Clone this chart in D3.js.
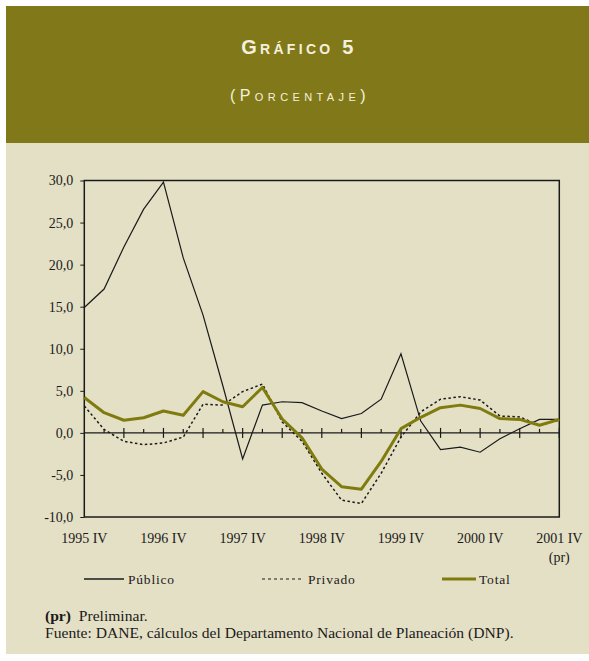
<!DOCTYPE html>
<html>
<head>
<meta charset="utf-8">
<script src="https://cdn.jsdelivr.net/npm/d3@7"></script>
<style>
  body { margin: 0; background: #fff; }
  svg { display: block; }
</style>
</head>
<body>
<svg></svg>
<script>
// quarters 1995 IV .. 2001 IV
var quarters = ["1995 IV",
  "1996 I", "1996 II", "1996 III", "1996 IV",
  "1997 I", "1997 II", "1997 III", "1997 IV",
  "1998 I", "1998 II", "1998 III", "1998 IV",
  "1999 I", "1999 II", "1999 III", "1999 IV",
  "2000 I", "2000 II", "2000 III", "2000 IV",
  "2001 I", "2001 II", "2001 III", "2001 IV"];

var publico = [14.9, 17.1, 22.1, 26.6, 29.8, 20.8, 14.0, 5.6, -3.1, 3.3, 3.7, 3.6, 2.6,
  1.7, 2.3, 4.0, 9.4, 1.4, -2.0, -1.7, -2.3, -0.7, 0.5, 1.6, 1.6];
var privado = [3.2, 0.4, -1.0, -1.4, -1.2, -0.5, 3.4, 3.3, 4.9, 5.8, 1.3, -1.0, -4.8,
  -8.0, -8.4, -4.8, -0.5, 2.5, 4.0, 4.3, 3.9, 2.0, 1.9, 0.9, 1.5];
var total = [4.2, 2.4, 1.5, 1.8, 2.6, 2.1, 4.9, 3.7, 3.1, 5.4, 1.65, -0.6, -4.3,
  -6.4, -6.7, -3.4, 0.5, 1.85, 3.0, 3.3, 2.9, 1.7, 1.6, 0.9, 1.6];

var yTicks = [-10, -5, 0, 5, 10, 15, 20, 25, 30];
var xLabels = ["1995 IV", "1996 IV", "1997 IV", "1998 IV", "1999 IV", "2000 IV", "2001 IV"];

var W = 589, H = 661;
var bg = "#e4e0c5", olive = "#817919", lineOlive = "#807b0e", ink = "#1a1a1a";
var serif = "'Liberation Serif', 'Times New Roman', serif";

var svg = d3.select("svg").attr("width", W).attr("height", H);

// panel + header band
svg.append("rect").attr("x", 6).attr("y", 6).attr("width", W - 6).attr("height", 648).attr("fill", bg);
svg.append("rect").attr("x", 6).attr("y", 6).attr("width", W - 6).attr("height", 137).attr("fill", olive);

svg.append("text")
    .attr("x", 299).attr("y", 54)
    .attr("text-anchor", "middle")
    .attr("fill", "#f4f0dc")
    .style("font-family", "'Liberation Sans', Arial, sans-serif")
    .style("font-size", "20px")
    .style("font-weight", "bold")
    .style("font-variant", "small-caps")
    .style("letter-spacing", "3.3px")
    .text("Gráfico 5");

svg.append("text")
    .attr("x", 300).attr("y", 101)
    .attr("text-anchor", "middle")
    .attr("fill", "#f4f0dc")
    .style("font-family", "'Liberation Sans', Arial, sans-serif")
    .style("font-size", "16px")
    .style("font-variant", "small-caps")
    .style("letter-spacing", "4.4px")
    .text("(Porcentaje)");

var plotLeft = 84.3, plotRight = 559.3, plotTop = 180.5, plotBottom = 517;

var x = d3.scalePoint().domain(quarters).range([plotLeft, plotRight]);
var y = d3.scaleLinear().domain([-10, 30]).range([plotBottom, plotTop]);

var g = svg.append("g");

// frame
g.append("rect")
    .attr("x", plotLeft).attr("y", plotTop)
    .attr("width", plotRight - plotLeft).attr("height", plotBottom - plotTop)
    .attr("fill", "none").attr("stroke", ink).attr("stroke-width", 1.5);

// y axis labels
var yAxis = d3.axisLeft(y).tickValues(yTicks).tickSize(4)
    .tickFormat(function(d) { return d3.format(".1f")(d).replace(".", ",").replace("\u2212", "-"); });
g.append("g")
    .attr("transform", "translate(" + plotLeft + ",0)")
    .call(yAxis)
    .call(function(s) {
      s.select(".domain").remove();
      s.selectAll("line").attr("stroke", ink).attr("stroke-width", 1);
      s.selectAll("text")
        .attr("x", -11)
        .attr("fill", ink)
        .style("font-family", serif)
        .style("font-size", "14px");
    });

// zero line with quarter ticks
g.append("line")
    .attr("x1", plotLeft).attr("x2", plotRight)
    .attr("y1", y(0)).attr("y2", y(0))
    .attr("stroke", ink).attr("stroke-width", 1.2);

g.selectAll(".qtick")
    .data(quarters.slice(1))
  .enter().append("line")
    .attr("class", "qtick")
    .attr("x1", function(d) { return x(d); })
    .attr("x2", function(d) { return x(d); })
    .attr("y1", function(d, i) { return y(0) - ((i + 1) % 2 === 0 ? 5 : 4); })
    .attr("y2", function(d, i) { return y(0) + ((i + 1) % 2 === 0 ? 5 : 0); })
    .attr("stroke", ink).attr("stroke-width", 1.2);

// x labels
g.selectAll(".xlab")
    .data(xLabels)
  .enter().append("text")
    .attr("class", "xlab")
    .attr("x", function(d) { return x(d); })
    .attr("y", 543)
    .attr("text-anchor", "middle")
    .attr("fill", ink)
    .style("font-family", serif)
    .style("font-size", "14px")
    .text(function(d) { return d; });

g.append("text")
    .attr("x", x("2001 IV")).attr("y", 562)
    .attr("text-anchor", "middle")
    .attr("fill", ink)
    .style("font-family", serif)
    .style("font-size", "14px")
    .text("(pr)");

// series
var line = d3.line()
    .x(function(d, i) { return x(quarters[i]); })
    .y(function(d) { return y(d); });

g.append("path").datum(publico)
    .attr("d", line).attr("fill", "none")
    .attr("stroke", ink).attr("stroke-width", 1.2);

g.append("path").datum(privado)
    .attr("d", line).attr("fill", "none")
    .attr("stroke", ink).attr("stroke-width", 1.5)
    .attr("stroke-dasharray", "2.5,2.5");

g.append("path").datum(total)
    .attr("d", line).attr("fill", "none")
    .attr("stroke", lineOlive).attr("stroke-width", 3)
    .attr("stroke-linejoin", "round");

// legend
var legend = [
  {name: "Público", x1: 84, x2: 124, tx: 128, color: ink, w: 1.5, dash: null},
  {name: "Privado", x1: 262, x2: 304, tx: 308, color: ink, w: 1.2, dash: "3,3"},
  {name: "Total", x1: 442, x2: 476, tx: 479, color: lineOlive, w: 3, dash: null}
];
var lg = svg.append("g").selectAll("g").data(legend).enter().append("g");
lg.append("line")
    .attr("x1", function(d) { return d.x1; }).attr("x2", function(d) { return d.x2; })
    .attr("y1", 579).attr("y2", 579)
    .attr("stroke", function(d) { return d.color; })
    .attr("stroke-width", function(d) { return d.w; })
    .attr("stroke-dasharray", function(d) { return d.dash; });
lg.append("text")
    .attr("x", function(d) { return d.tx; }).attr("y", 583.5)
    .attr("fill", ink)
    .style("font-family", serif)
    .style("font-size", "13.5px")
    .style("letter-spacing", "0.8px")
    .text(function(d) { return d.name; });

// notes
var note = svg.append("text")
    .attr("x", 45).attr("y", 621)
    .attr("fill", ink)
    .style("font-family", serif)
    .style("font-size", "15.6px");
note.append("tspan").style("font-weight", "bold").text("(pr)");
note.append("tspan").text("\u00a0 Preliminar.");

svg.append("text")
    .attr("x", 45).attr("y", 637.5)
    .attr("fill", ink)
    .style("font-family", serif)
    .style("font-size", "15.6px")
    .text("Fuente: DANE, cálculos del Departamento Nacional de Planeación (DNP).");
</script>
</body>
</html>
